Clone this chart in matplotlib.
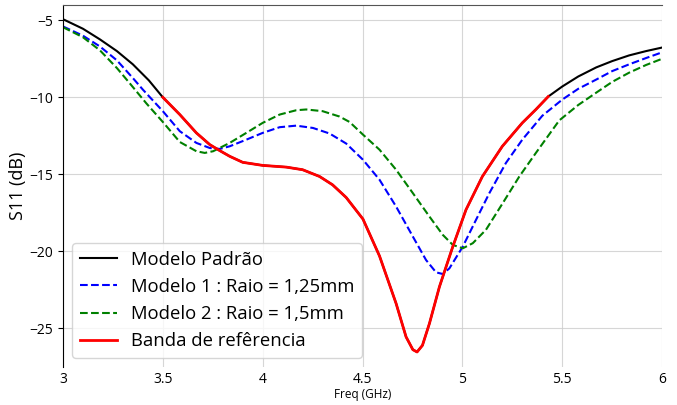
import numpy as np
import matplotlib
matplotlib.use("Agg")
import matplotlib.pyplot as plt

plt.rcParams['font.family'] = ['Open Sans', 'DejaVu Sans']

# Modelo Padrão (the red band is a slice of this curve)
freq_padrao = [3.0, 3.1, 3.185, 3.27, 3.35, 3.43, 3.5, 3.585, 3.668, 3.735, 3.785, 3.835, 3.9,
               4.0, 4.118, 4.2, 4.285, 4.35, 4.418, 4.502, 4.585, 4.668, 4.718, 4.752,
               4.773, 4.8, 4.835, 4.885, 4.952, 5.018, 5.1, 5.2, 5.3, 5.368, 5.43,
               5.5, 5.58, 5.67, 5.75, 5.835, 5.92, 6.0]
s11_padrao = [-4.93, -5.55, -6.24, -7.0, -7.86, -8.9, -10.0, -11.12, -12.31, -13.07, -13.46, -13.83, -14.22,
              -14.42, -14.53, -14.7, -15.14, -15.68, -16.5, -17.9, -20.3, -23.38, -25.55, -26.38,
              -26.53, -26.1, -24.68, -22.3, -19.69, -17.3, -15.14, -13.18, -11.66, -10.79, -9.95,
              -9.3, -8.65, -8.06, -7.65, -7.28, -7.0, -6.77]
band_lo, band_hi = 3.5, 5.43

freq_m1 = [3.0, 3.1, 3.185, 3.27, 3.35, 3.4, 3.45, 3.5, 3.585, 3.668, 3.735, 3.785, 3.835, 3.918,
           4.0, 4.085, 4.168, 4.252, 4.335, 4.418, 4.502, 4.585, 4.668, 4.752, 4.818, 4.868,
           4.902, 4.935, 5.002, 5.068, 5.135, 5.218, 5.3, 5.4, 5.5, 5.58, 5.67, 5.75, 5.835, 5.92, 6.0]
s11_m1 = [-5.4, -6.0, -6.7, -7.6, -8.75, -9.5, -10.2, -10.9, -12.2, -12.96, -13.29, -13.35, -13.18, -12.75,
          -12.31, -11.94, -11.84, -11.99, -12.35, -13.0, -14.05, -15.35, -17.09, -19.04, -20.56, -21.36,
          -21.47, -21.1, -19.69, -17.96, -16.22, -14.26, -12.75, -11.2, -10.15, -9.45, -8.85, -8.3, -7.86, -7.45, -7.08]

freq_m2 = [3.0, 3.1, 3.185, 3.27, 3.335, 3.418, 3.5, 3.585, 3.668, 3.71, 3.752, 3.835, 3.918,
           4.0, 4.085, 4.168, 4.218, 4.3, 4.385, 4.435, 4.502, 4.585, 4.668, 4.752, 4.835,
           4.902, 4.952, 5.002, 5.052, 5.118, 5.202, 5.285, 5.368, 5.485, 5.58, 5.67, 5.75, 5.835, 5.92, 6.0]
s11_m2 = [-5.45, -6.1, -6.95, -8.1, -9.1, -10.4, -11.6, -12.9, -13.5, -13.61, -13.5, -12.96, -12.31,
          -11.66, -11.12, -10.84, -10.79, -10.9, -11.25, -11.6, -12.42, -13.4, -14.7, -16.22, -17.74,
          -18.93, -19.58, -19.8, -19.47, -18.6, -16.87, -15.14, -13.61, -11.5, -10.5, -9.7, -9.0, -8.4, -7.9, -7.5]

fp = np.array(freq_padrao)
sp = np.array(s11_padrao)
band = (fp >= band_lo) & (fp <= band_hi)

fig, ax = plt.subplots(figsize=(6.77, 4.05), dpi=100)
ax.plot(fp, sp, color='black', lw=1.5, label='Modelo Padrão')
ax.plot(freq_m1, s11_m1, color='blue', ls='--', lw=1.5, label='Modelo 1 : Raio = 1,25mm')
ax.plot(freq_m2, s11_m2, color='green', ls='--', lw=1.5, label='Modelo 2 : Raio = 1,5mm')
ax.plot(fp[band], sp[band], color='red', lw=2, label='Banda de refêrencia')

ax.set_xlim(3, 6)
ax.set_ylim(-27.5, -4)
ax.set_xticks([3, 3.5, 4, 4.5, 5, 5.5, 6])
ax.set_xticklabels(['3', '3.5', '4', '4.5', '5', '5.5', '6'])
ax.set_yticks([-5, -10, -15, -20, -25])
ax.grid(True, color='#cccccc', lw=0.8, alpha=0.8)
ax.spines['right'].set_visible(False)
ax.spines['bottom'].set_visible(False)
ax.spines['top'].set_color('#555555')
ax.tick_params(axis='x', length=0, labelsize=10)
ax.tick_params(axis='y', labelsize=10)
ax.set_xlabel('Freq (GHz)', fontsize=8.5, labelpad=1)
ax.set_ylabel('S11 (dB)', fontsize=13, labelpad=2)
ax.legend(loc='lower left', fontsize=13.3, labelspacing=0.5, framealpha=0.8)

fig.subplots_adjust(left=0.093, right=0.978, top=0.988, bottom=0.094)
fig.savefig('out.png')
